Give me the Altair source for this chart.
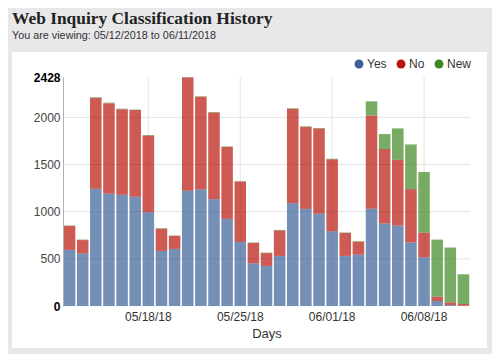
import altair as alt
import pandas as pd

days = ["05/12/18", "05/13/18", "05/14/18", "05/15/18", "05/16/18", "05/17/18", "05/18/18",
        "05/19/18", "05/20/18", "05/21/18", "05/22/18", "05/23/18", "05/24/18", "05/25/18",
        "05/26/18", "05/27/18", "05/28/18", "05/29/18", "05/30/18", "05/31/18", "06/01/18",
        "06/02/18", "06/03/18", "06/04/18", "06/05/18", "06/06/18", "06/07/18", "06/08/18",
        "06/09/18", "06/10/18", "06/11/18"]
yes = [595, 556, 1243, 1189, 1179, 1158, 995, 584, 605, 1221, 1235, 1133, 924, 680, 453, 425,
       531, 1090, 1030, 977, 793, 531, 545, 1030, 874, 853, 673, 517, 53, 10, 3]
no = [253, 143, 965, 962, 908, 919, 812, 236, 137, 1202, 983, 919, 763, 639, 215, 136,
      271, 1001, 870, 905, 763, 243, 137, 991, 790, 697, 566, 262, 46, 29, 18]
new = [5, 5, 5, 5, 5, 5, 5, 5, 5, 5, 5, 5, 5, 5, 5, 5,
       5, 5, 5, 5, 5, 5, 5, 149, 159, 333, 474, 641, 605, 581, 315]
series = ["Yes", "No", "New"]
colors = ["#3b6197", "#b8150c", "#3e8722"]
x_ticks = ["05/18/18", "05/25/18", "06/01/18", "06/08/18"]
y_ticks = [0, 500, 1000, 1500, 2000, 2428]
y_grid = [500, 1000, 1500, 2000]
y_max = 2428

rows = []
for i, d in enumerate(days):
    for k, (s, vals) in enumerate(zip(series, [yes, no, new])):
        rows.append({"day": d, "series": s, "value": vals[i], "order": k})
df = pd.DataFrame(rows)

W, H = 407, 229
x_scale = alt.Scale(domain=days, paddingInner=0.12, paddingOuter=0.06)
y_scale = alt.Scale(domain=[0, y_max], nice=False, zero=True)

bold_cond = {"condition": {"test": "datum.value == 0 || datum.value == 2428", "value": "bold"}, "value": "normal"}
color_cond = {"condition": {"test": "datum.value == 0 || datum.value == 2428", "value": "#000000"}, "value": "#444444"}

x_axis = alt.Axis(values=x_ticks, labelAngle=0, grid=False, ticks=False, domain=False,
                  labelFontSize=12, labelColor="#333333", titleFontSize=13,
                  titleFontWeight="normal", titleColor="#333333", labelPadding=5,
                  titlePadding=5, zindex=1)
y_axis = alt.Axis(values=y_ticks, format="d", grid=False, ticks=False, domainColor="#b0b0b0",
                  labelFontSize=12, labelPadding=3, zindex=1,
                  labelFontWeight=bold_cond, labelColor=color_cond)

panel = alt.Chart(pd.DataFrame({"a": [0]})).mark_rect(color="white").encode(
    x=alt.value(-51), x2=alt.value(W + 17), y=alt.value(-25), y2=alt.value(H + 42)
)

ygrid = alt.Chart(pd.DataFrame({"v": y_grid})).mark_rule(color="#e4e4e4", strokeWidth=1).encode(
    y=alt.Y("v:Q", scale=y_scale, axis=y_axis, title=None)
)
xgrid = alt.Chart(pd.DataFrame({"day": x_ticks})).mark_rule(color="#e4e4e4", strokeWidth=1).encode(
    x=alt.X("day:N", scale=x_scale, axis=x_axis, title="Days")
)

bars = alt.Chart(df).mark_bar(opacity=0.7).encode(
    x=alt.X("day:N", scale=x_scale, title="Days", axis=x_axis),
    y=alt.Y("value:Q", stack="zero", scale=y_scale, title=None, axis=y_axis),
    color=alt.Color("series:N", scale=alt.Scale(domain=series, range=colors),
                    legend=alt.Legend(orient="none", legendX=290, legendY=-19, direction="horizontal",
                                      title=None, symbolType="circle", symbolSize=80,
                                      symbolOpacity=1, symbolStrokeWidth=0, labelFontSize=12,
                                      labelColor="#333333", columnPadding=8, labelOffset=2,
                                      padding=0, zindex=1)),
    order=alt.Order("order:Q"),
)

chart = alt.layer(panel, xgrid, ygrid, bars).properties(
    width=W, height=H,
    title=alt.Title("Web Inquiry Classification History",
                    subtitle="You are viewing: 05/12/2018 to 06/11/2018",
                    anchor="start", frame="group", dx=-51, offset=11,
                    font="Liberation Serif", fontSize=17.4, fontWeight="bold", color="#222222",
                    subtitleFont="Liberation Sans", subtitleFontSize=10.8,
                    subtitleColor="#333333", subtitlePadding=3),
    autosize=alt.AutoSizeParams(type="none"),
    padding={"left": 55, "top": 69, "right": 22, "bottom": 48},
    background="#e8e8ea",
).configure_view(stroke=None).configure_axis(
    labelFont="Liberation Sans", titleFont="Liberation Sans"
).configure_legend(labelFont="Liberation Sans")

chart.save("out.html", embed_options={"renderer": "svg", "actions": False})
